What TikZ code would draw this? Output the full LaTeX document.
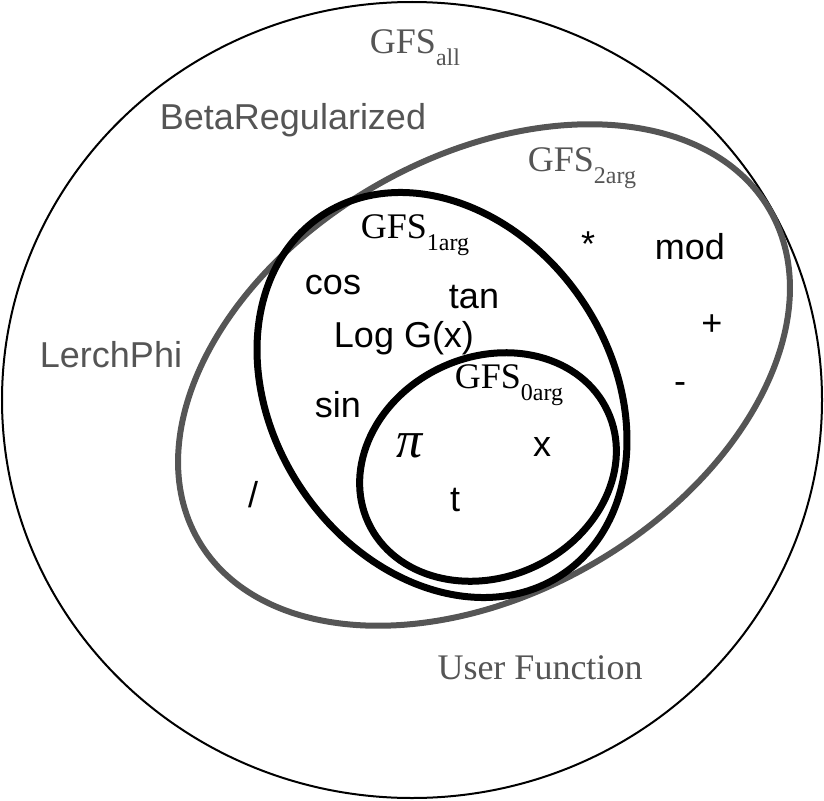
\documentclass[tikz,border=0pt]{standalone}
\usepackage{fontspec}
\setmainfont{Liberation Sans}
\newfontfamily\timesfont{Liberation Serif}
\definecolor{setgray}{HTML}{555555}
\newcommand{\gfs}[1]{{\timesfont GFS\raisebox{-0.33em}{\fontsize{12}{12}\selectfont #1}}}

\begin{document}
\begin{tikzpicture}
[
    x=0.5pt, y=0.5pt,
    every node/.style={font=\fontsize{18}{20}\selectfont, inner sep=0pt},
    grey label/.style={text=setgray},
    thin set/.style={draw=black, line width=1pt},
    grey set/.style={draw=setgray, line width=3pt},
    black set/.style={draw=black, line width=3.5pt}
]
    \useasboundingbox (0,0) rectangle (824,800);

    % the nested sets
    \draw [thin set] (412,400) ellipse (410 and 398);
    \draw [grey set, rotate around={30:(484,425)}] (484,425) ellipse (330 and 218);
    \draw [black set, rotate around={34:(442,405)}] (442,405) ellipse (169 and 216);
    \draw [black set, rotate around={25:(488,333)}] (488,333) ellipse (132 and 110);

    % set names
    \node [grey label] (all) at (415,752) {\gfs{all}};
    \node [grey label] (two) at (582,632) {\gfs{2arg}};
    \node (one) at (415,565) {\gfs{1arg}};
    \node (zero) at (509,415) {\gfs{0arg}};

    % functions outside the inner sets
    \node [grey label] (beta) at (293,680) {BetaRegularized};
    \node [grey label] (lerch) at (111,445) {LerchPhi};
    \node [grey label] (user) at (540,132) {\timesfont User Function};

    % two arguments
    \node (mul) at (588,556) {*};
    \node (mod) at (690,553) {mod};
    \node (plus) at (712,475) {+};
    \node (minus) at (680,412) {-};
    \node (div) at (253,305) {/};

    % one argument
    \node (cos) at (333,515) {cos};
    \node (tan) at (474,503) {tan};
    \node (log) at (404,462) {Log G(x)};
    \node (sin) at (338,395) {sin};

    % no arguments
    \node (pi) at (410,354) {\fontsize{26}{28}\selectfont\timesfont\itshape π};
    \node (x) at (542,353) {x};
    \node (t) at (455,300) {t};
\end{tikzpicture}
\end{document}
